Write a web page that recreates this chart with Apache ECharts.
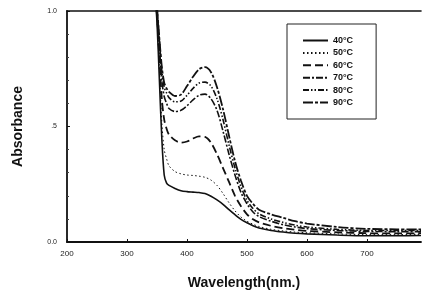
<!DOCTYPE html>
<html>
<head>
<meta charset="utf-8">
<script src="https://cdn.jsdelivr.net/npm/echarts@6/dist/echarts.min.js"></script>
<style>
  html, body { margin: 0; padding: 0; background: #fff; }
  #chart { width: 422px; height: 295px; }
</style>
</head>
<body>
<div id="chart"></div>
<script>
// wavelength (nm) sample points
const wavelengths = [346, 350, 354, 358, 362, 366, 370, 380, 390, 400, 410, 420, 430, 440, 450,
  460, 470, 480, 490, 500, 510, 520, 540, 560, 580, 600, 650, 700, 750, 790];

const seriesNames = ["40°C", "50°C", "60°C", "70°C", "80°C", "90°C"];

const abs40 = [1.1, 0.95, 0.7, 0.45, 0.29, 0.255, 0.245, 0.232, 0.222, 0.218, 0.216, 0.214, 0.21, 0.198, 0.182,
  0.163, 0.14, 0.118, 0.098, 0.083, 0.07, 0.061, 0.05, 0.043, 0.038, 0.035, 0.03, 0.027, 0.027, 0.028];
const abs50 = [1.1, 0.96, 0.75, 0.52, 0.4, 0.36, 0.33, 0.305, 0.295, 0.29, 0.288, 0.285, 0.28, 0.268, 0.245,
  0.21, 0.17, 0.135, 0.108, 0.09, 0.077, 0.067, 0.055, 0.048, 0.043, 0.04, 0.035, 0.032, 0.032, 0.033];
const abs60 = [1.12, 0.98, 0.8, 0.62, 0.53, 0.49, 0.465, 0.44, 0.43, 0.435, 0.448, 0.457, 0.455, 0.43, 0.38,
  0.32, 0.26, 0.2, 0.155, 0.12, 0.098, 0.085, 0.07, 0.06, 0.053, 0.048, 0.042, 0.038, 0.037, 0.038];
const abs70 = [1.14, 1.0, 0.85, 0.7, 0.63, 0.6, 0.578, 0.565, 0.57, 0.59, 0.615, 0.635, 0.64, 0.62, 0.57,
  0.48, 0.38, 0.29, 0.215, 0.165, 0.13, 0.11, 0.09, 0.075, 0.065, 0.058, 0.05, 0.046, 0.045, 0.045];
const abs80 = [1.15, 1.01, 0.87, 0.74, 0.67, 0.645, 0.625, 0.607, 0.61, 0.635, 0.665, 0.688, 0.692, 0.675, 0.62,
  0.53, 0.42, 0.32, 0.24, 0.18, 0.145, 0.122, 0.1, 0.085, 0.073, 0.065, 0.055, 0.05, 0.05, 0.05];
const abs90 = [1.16, 1.02, 0.88, 0.76, 0.69, 0.665, 0.65, 0.632, 0.638, 0.675, 0.715, 0.748, 0.757, 0.735, 0.67,
  0.575, 0.46, 0.35, 0.265, 0.2, 0.165, 0.14, 0.12, 0.105, 0.09, 0.08, 0.065, 0.057, 0.055, 0.055];

const allValues = [abs40, abs50, abs60, abs70, abs80, abs90];

const yLabels = { 0: "0.0", 0.5: ".5", 1: "1.0" };

// line look per temperature
const lineStyles = [
  { type: "solid", width: 1.6 },
  { type: [1.5, 2.5], width: 1 },
  { type: [8, 4], width: 1.8 },
  { type: [7, 2, 2, 2], width: 1.6 },
  { type: [6, 2, 1.5, 2, 1.5, 2], width: 1.6 },
  { type: [10, 2, 3, 2], width: 1.8 },
];

const chart = echarts.init(document.getElementById("chart"));

const series = seriesNames.map((name, i) => ({
  name: name,
  type: "line",
  symbol: "none",
  smooth: 0.3,
  clip: true,
  lineStyle: { color: "#111", type: lineStyles[i].type, width: lineStyles[i].width },
  itemStyle: { color: "#111" },
  data: wavelengths.map((w, k) => [w, allValues[i][k]]),
}));

chart.setOption({
  animation: false,
  grid: { left: 67, right: 1, top: 11, bottom: 53 },
  legend: {
    orient: "vertical",
    left: 287,
    top: 24,
    padding: [12, 23, 12, 15],
    itemWidth: 25,
    itemHeight: 10,
    itemGap: 3.4,
    itemStyle: { opacity: 0 },
    borderColor: "#222",
    borderWidth: 1,
    borderRadius: 0,
    textStyle: { fontFamily: "Liberation Sans", fontSize: 9, fontWeight: "bold", color: "#111" },
    data: seriesNames,
  },
  xAxis: [
    {
      type: "value",
      min: 200,
      max: 790,
      interval: 100,
      name: "Wavelength(nm.)",
      nameLocation: "middle",
      nameGap: 34,
      nameTextStyle: { fontFamily: "Liberation Sans", fontSize: 14, fontWeight: "bold", color: "#111" },
      axisLine: { lineStyle: { color: "#111", width: 1.8 } },
      axisTick: { inside: true, length: 3, lineStyle: { color: "#111" } },
      splitLine: { show: false },
      axisLabel: {
        fontFamily: "Liberation Sans",
        fontSize: 8,
        color: "#222",
        margin: 8,
        showMaxLabel: false,
      },
    },
    {
      type: "value",
      position: "top",
      min: 200,
      max: 790,
      axisLine: { show: true, lineStyle: { color: "#111", width: 1.6 } },
      axisTick: { show: false },
      axisLabel: { show: false },
      splitLine: { show: false },
    },
  ],
  yAxis: {
    type: "value",
    min: 0,
    max: 1,
    interval: 0.5,
    name: "Absorbance",
    nameLocation: "middle",
    nameGap: 42,
    nameTextStyle: { fontFamily: "Liberation Sans", fontSize: 14, fontWeight: "bold", color: "#111" },
    axisLine: { show: true, lineStyle: { color: "#111", width: 1.8 } },
    axisTick: { inside: true, length: 3, lineStyle: { color: "#111" } },
    minorTick: { show: true, splitNumber: 5, length: 2, lineStyle: { color: "#444" } },
    splitLine: { show: false },
    axisLabel: {
      fontFamily: "Liberation Sans",
      fontSize: 7,
      color: "#222",
      margin: 10,
      formatter: (v) => yLabels[v] || "",
    },
  },
  series: series,
});
</script>
</body>
</html>
